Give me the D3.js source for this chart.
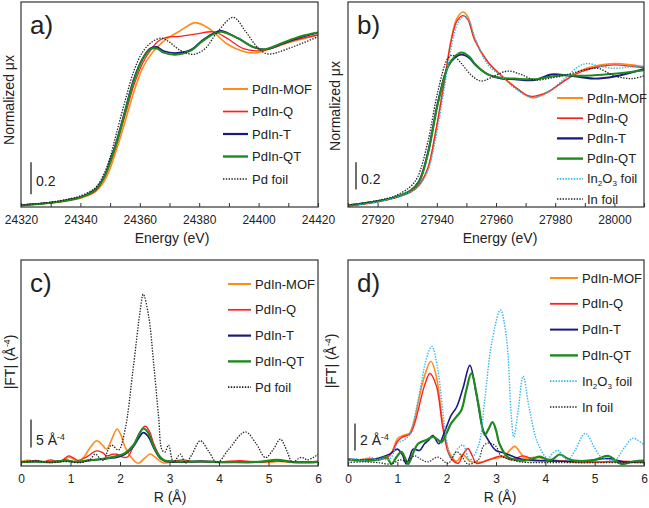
<!DOCTYPE html>
<html><head><meta charset="utf-8">
<script src="https://cdn.jsdelivr.net/npm/d3@7"></script>
<style>body{margin:0;background:#fff}svg{display:block}text{font-family:"Liberation Sans",Arial,sans-serif;fill:#222}</style>
</head><body><svg id="chart" width="649" height="508"></svg>
<script>
// ---------- Panel a: Pd K-edge XANES ----------
const aTicks = [24320,24330,24340,24350,24360,24370,24380,24390,24400,24410,24420];
const aTickLabels = [24320,24340,24360,24380,24400,24420];
const aMOF = [[24320,0.01],[24330,0.025],[24336,0.04],[24340,0.055],[24345,0.095],[24348,0.16],[24350,0.24],[24352,0.35],[24355,0.53],[24358,0.72],[24361,0.87],[24364,0.96],[24366.5,1.01],[24369,1.05],[24373.5,1.10],[24378.6,1.152],[24382,1.13],[24384.7,1.096],[24389.3,1.02],[24394.9,0.972],[24399.4,0.963],[24403.9,0.99],[24410.6,1.03],[24420,1.075]];
const aQ = [[24320,0.011],[24330,0.027],[24336,0.043],[24340,0.06],[24345,0.10],[24348,0.18],[24350,0.27],[24352,0.38],[24355,0.57],[24358,0.76],[24361,0.90],[24364,0.99],[24366.5,1.04],[24369,1.06],[24373.5,1.066],[24378.6,1.08],[24385,1.094],[24389.3,1.055],[24394.9,0.99],[24400.5,0.976],[24405,0.995],[24410.6,1.035],[24420,1.075]];
const aT = [[24320,0.011],[24330,0.027],[24336,0.045],[24340,0.062],[24345,0.11],[24348,0.19],[24350,0.29],[24352,0.40],[24355,0.60],[24358,0.80],[24361,0.93],[24363.5,0.99],[24365.7,1.00],[24368,0.975],[24371.9,0.962],[24377,0.98],[24381,1.04],[24385.3,1.09],[24387.5,1.10],[24393,1.055],[24398.2,1.0],[24402,0.985],[24408,1.02],[24414,1.06],[24420,1.09]];
const aQT = [[24320,0.01],[24330,0.026],[24336,0.044],[24340,0.06],[24345,0.105],[24348,0.185],[24350,0.28],[24352,0.39],[24355,0.59],[24358,0.79],[24361,0.925],[24363.5,0.985],[24365.7,0.99],[24368,0.965],[24371.9,0.952],[24377,0.975],[24381,1.035],[24385.3,1.085],[24387.5,1.095],[24393,1.055],[24398.2,1.0],[24402,0.985],[24408,1.025],[24414,1.065],[24420,1.09]];
const aPdFoil = [[24320,0.012],[24330,0.03],[24336,0.05],[24340,0.07],[24345,0.12],[24348,0.21],[24350,0.31],[24352,0.45],[24355,0.66],[24358,0.85],[24361,0.97],[24364,1.03],[24367.4,1.055],[24370,1.03],[24373.5,0.98],[24378,0.954],[24382,0.99],[24386,1.09],[24391.5,1.185],[24395.5,1.10],[24400,0.99],[24403.2,0.956],[24410,0.99],[24420,1.064]];

// ---------- Panel b: In K-edge XANES ----------
const bTicks = [27910,27920,27930,27940,27950,27960,27970,27980,27990,28000,28010];
const bTickLabels = [27920,27940,27960,27980,28000];
const bMOF = [[27910,0.0],[27920,0.03],[27926,0.06],[27931,0.10],[27934,0.15],[27937,0.27],[27939.5,0.52],[27942.7,0.93],[27944.9,1.22],[27946.8,1.37],[27948.9,1.416],[27950.5,1.38],[27952.8,1.22],[27957.3,1.05],[27961.8,0.954],[27966.3,0.87],[27970.8,0.80],[27972.5,0.79],[27977.6,0.83],[27983.2,0.917],[27988.8,0.99],[27995.6,1.03],[28000,1.04],[28005.7,1.03],[28010,1.015]];
const bQ = [[27910,0.0],[27920,0.032],[27926,0.062],[27931,0.10],[27934,0.155],[27937,0.28],[27939.5,0.53],[27942.7,0.93],[27944.9,1.21],[27946.8,1.35],[27948.9,1.39],[27950.5,1.36],[27952.8,1.21],[27957.3,1.05],[27961.8,0.95],[27966.3,0.87],[27970.8,0.805],[27972.5,0.80],[27977.6,0.835],[27983.2,0.915],[27988.8,0.98],[27995.6,1.02],[28000,1.03],[28005.7,1.02],[28010,1.01]];
const bT = [[27910,0.005],[27920,0.035],[27926,0.065],[27931,0.11],[27934,0.18],[27937,0.39],[27940.4,0.76],[27943.8,1.02],[27946,1.08],[27948.3,1.105],[27951,1.08],[27953,1.03],[27957.3,0.96],[27961.8,0.93],[27966.3,0.925],[27973,0.92],[27978.7,0.96],[27983.2,0.955],[27988.8,0.94],[27993.3,0.93],[28000,0.945],[28010,1.0]];
const bQT = [[27910,0.005],[27920,0.035],[27926,0.065],[27931,0.11],[27934,0.175],[27937,0.38],[27940.4,0.75],[27943.8,1.02],[27946,1.09],[27948.3,1.12],[27951,1.09],[27953,1.035],[27957.3,0.96],[27961.8,0.935],[27966.3,0.93],[27973,0.925],[27978.7,0.945],[27983.2,0.955],[27988.8,0.95],[27993.3,0.955],[28000,0.965],[28010,0.99]];
const bIn2O3 = [[27910,0.0],[27920,0.03],[27926,0.06],[27931,0.10],[27934,0.15],[27937,0.26],[27939.5,0.48],[27942.7,0.88],[27944.9,1.16],[27947,1.33],[27949.3,1.385],[27951,1.35],[27953,1.22],[27957.3,1.03],[27961.8,0.95],[27966.3,0.86],[27970.8,0.80],[27973,0.79],[27978,0.84],[27983.2,0.93],[27988,1.02],[27991,1.04],[27995,1.02],[28000,1.005],[28005,1.015],[28010,1.02]];
const bInFoil = [[27910,0.005],[27920,0.04],[27926,0.075],[27931,0.14],[27933.5,0.21],[27937,0.47],[27940.4,0.84],[27943.8,1.08],[27945.5,1.10],[27948.3,1.04],[27951.7,0.954],[27955,0.912],[27959.5,0.95],[27964,0.985],[27968.5,0.96],[27973,0.92],[27977.6,0.93],[27984.3,0.96],[27991,1.0],[27994.5,1.005],[28000,0.95],[28005.7,0.93],[28010,0.95]];

// ---------- Panel c: Pd K-edge EXAFS FT ----------
const cTicks = [0,1,2,3,4,5,6];
const cTickLabels = [0,1,2,3,4,5,6];
const cMOF = [[0,0.3],[0.15,0.5],[0.3,0.3],[0.45,0.2],[0.6,0.4],[0.75,0.2],[0.85,0.4],[0.96,1.05],[1.05,0.8],[1.13,0.3],[1.25,0.9],[1.4,2.8],[1.53,4.0],[1.65,3.2],[1.73,2.5],[1.83,4.2],[1.94,6.1],[2.02,5.0],[2.1,2.95],[2.25,0.8],[2.37,0.0],[2.5,0.9],[2.61,1.64],[2.72,1.0],[2.88,0.05],[3.0,0.2],[3.3,0.3],[3.6,0.3],[4.0,0.15],[4.5,0.25],[5.0,0.15],[5.2,0.3],[5.5,0.15],[6.0,0.2]];
const cQ = [[0,0.3],[0.15,0.2],[0.3,0.5],[0.45,0.2],[0.6,0.6],[0.75,0.2],[0.85,0.6],[0.96,1.3],[1.05,1.0],[1.15,0.5],[1.3,1.0],[1.53,2.2],[1.65,1.9],[1.73,1.3],[1.85,1.6],[1.94,1.6],[2.05,1.1],[2.15,1.1],[2.27,3.0],[2.4,5.5],[2.51,6.6],[2.6,5.6],[2.68,3.5],[2.8,1.3],[2.88,0.5],[3.0,0.3],[3.28,0.6],[3.45,0.3],[3.62,0.4],[4.0,0.25],[4.43,0.45],[4.8,0.2],[5.17,0.45],[5.5,0.2],[6.0,0.3]];
const cT = [[0,0.2],[0.3,0.3],[0.6,0.2],[0.92,0.5],[1.1,0.2],[1.4,0.5],[1.6,0.7],[1.8,0.9],[1.95,1.1],[2.1,1.6],[2.27,3.0],[2.4,4.8],[2.47,5.45],[2.56,4.9],[2.68,2.8],[2.8,1.0],[2.9,0.4],[3.1,0.2],[3.62,0.3],[4.2,0.2],[4.8,0.2],[5.17,0.5],[5.5,0.2],[6.0,0.2]];
const cQT = [[0,0.2],[0.3,0.3],[0.6,0.2],[0.92,0.45],[1.1,0.25],[1.4,0.55],[1.6,0.7],[1.8,1.0],[1.95,1.3],[2.1,1.8],[2.27,3.2],[2.4,5.4],[2.47,6.2],[2.56,5.6],[2.68,3.0],[2.8,1.2],[2.9,0.5],[3.1,0.3],[3.62,0.3],[4.2,0.2],[4.8,0.25],[5.17,0.6],[5.5,0.2],[6.0,0.25]];
const cPdFoil = [[0,0.2],[0.3,0.4],[0.6,0.1],[0.9,0.3],[1.2,0.1],[1.4,0.7],[1.5,1.64],[1.6,0.8],[1.67,0.5],[1.75,2.2],[1.83,3.25],[1.97,2.36],[2.1,5.9],[2.27,17.2],[2.41,27.4],[2.47,30.2],[2.58,26.2],[2.68,17.8],[2.78,8.3],[2.85,2.36],[2.91,2.0],[2.98,3.25],[3.08,0.2],[3.22,1.6],[3.32,0.0],[3.45,1.5],[3.62,4.0],[3.8,2.0],[3.96,0.1],[4.2,2.5],[4.53,5.6],[4.75,3.5],[4.94,1.0],[5.1,2.5],[5.24,4.3],[5.38,2.0],[5.48,0.2],[5.64,1.0],[5.72,0.9],[5.78,0.6],[5.9,1.0],[6.0,1.6]];

// ---------- Panel d: In K-edge EXAFS FT ----------
const dTicks = [0,1,2,3,4,5,6];
const dTickLabels = [0,1,2,3,4,5,6];
const dMOF = [[0,0.35],[0.2,0.3],[0.4,0.4],[0.55,0.3],[0.68,0.35],[0.8,0.5],[0.88,0.8],[1.01,1.9],[1.11,2.1],[1.2,2.2],[1.25,2.3],[1.35,3.3],[1.42,4.5],[1.55,6.5],[1.68,7.6],[1.79,6.5],[1.93,2.8],[2.06,0.8],[2.2,0.2],[2.33,0.7],[2.47,0.2],[2.7,0.15],[2.9,0.35],[3.1,0.5],[3.18,0.6],[3.3,1.1],[3.38,1.3],[3.5,0.8],[3.58,0.45],[3.78,0.5],[4.05,0.35],[4.4,0.2],[4.73,0.1],[5.3,0.15],[6.0,0.1]];
const dQ = [[0,0.35],[0.2,0.3],[0.4,0.35],[0.55,0.3],[0.68,0.35],[0.8,0.5],[0.88,0.8],[1.01,1.7],[1.11,2.0],[1.25,2.2],[1.35,3.0],[1.55,5.8],[1.66,6.7],[1.79,5.8],[1.93,2.5],[2.06,0.6],[2.23,0.05],[2.33,0.7],[2.43,1.15],[2.52,0.6],[2.6,0.05],[2.84,0.3],[3.0,0.5],[3.11,0.6],[3.3,0.3],[3.55,0.6],[3.78,0.3],[4.1,0.2],[4.5,0.2],[5.0,0.15],[5.5,0.2],[6.0,0.15]];
const dT = [[0,0.35],[0.3,0.3],[0.5,0.35],[0.68,0.5],[0.85,0.75],[1.0,1.1],[1.1,0.7],[1.18,0.0],[1.25,0.5],[1.32,1.1],[1.45,1.0],[1.55,1.5],[1.62,1.7],[1.72,2.1],[1.84,1.5],[1.96,2.4],[2.09,3.6],[2.2,4.2],[2.33,5.6],[2.47,7.3],[2.6,5.2],[2.74,2.5],[2.87,1.6],[3.0,1.0],[3.18,0.8],[3.38,0.5],[3.6,0.3],[3.78,0.25],[4.1,0.25],[4.39,0.2],[4.8,0.2],[5.27,0.4],[5.6,0.15],[6.0,0.2]];
const dQT = [[0,0.3],[0.3,0.25],[0.6,0.3],[0.78,0.5],[0.88,0.0],[0.98,0.5],[1.08,0.9],[1.15,0.5],[1.22,0.0],[1.32,0.8],[1.42,1.5],[1.6,1.8],[1.72,2.0],[1.82,1.8],[1.89,1.6],[2.0,2.3],[2.09,3.0],[2.2,3.5],[2.3,4.0],[2.4,5.5],[2.5,6.7],[2.64,4.5],[2.77,2.15],[2.85,2.6],[2.93,3.1],[3.0,2.5],[3.07,1.5],[3.24,0.5],[3.4,0.3],[3.58,0.25],[3.75,0.4],[3.89,0.55],[4.05,0.3],[4.15,0.35],[4.29,0.7],[4.45,0.4],[4.59,0.25],[5.0,0.3],[5.27,0.6],[5.54,0.0],[5.8,0.2],[6.0,0.25]];
const dIn2O3 = [[0,0.2],[0.15,0.4],[0.3,0.25],[0.45,0.5],[0.6,0.3],[0.68,0.4],[0.8,0.3],[0.88,0.5],[1.01,1.55],[1.15,1.8],[1.25,2.2],[1.42,4.7],[1.59,7.8],[1.70,8.7],[1.82,7.0],[1.96,2.76],[2.09,0.4],[2.23,1.16],[2.33,1.4],[2.47,0.3],[2.64,1.3],[2.77,4.7],[2.91,8.9],[3.09,11.4],[3.21,9.4],[3.31,3.5],[3.36,2.0],[3.45,4.0],[3.55,6.5],[3.68,4.0],[3.85,1.5],[4.05,0.4],[4.15,0.8],[4.26,1.0],[4.35,0.6],[4.46,0.3],[4.6,1.0],[4.81,2.27],[5.0,1.2],[5.14,0.5],[5.41,0.3],[5.6,1.2],[5.78,1.9],[6.0,1.4]];
const dInFoil = [[0,0.1],[0.3,0.15],[0.6,0.1],[0.88,0.0],[1.05,0.3],[1.2,0.2],[1.35,0.6],[1.5,0.3],[1.62,0.15],[1.82,0.5],[2.03,0.05],[2.2,0.9],[2.3,0.6],[2.43,0.0],[2.64,0.3],[2.74,1.3],[2.84,1.55],[3.0,1.3],[3.1,0.6],[3.24,0.4],[3.5,0.15],[4.0,0.1],[5.0,0.1],[6.0,0.1]];

const seriesNames = ["PdIn-MOF","PdIn-Q","PdIn-T","PdIn-QT"];
const COL = {mof:"#ff8c1a", q:"#ff1f1f", t:"#1a1a85", qt:"#1f8a1f", in2o3:"#2fb4f0", foil:"#222"};
const FONT = '"Liberation Sans", Arial, sans-serif';

const svg = d3.select("#chart");

function richText(sel, parts){
  parts.forEach(p=>{
    const ts = sel.append("tspan").text(p.t);
    if(p.sup){ ts.attr("dy",-5).attr("font-size","0.62em"); }
    else if(p.sub){ ts.attr("dy",3).attr("font-size","0.62em"); }
    else if(p.back){ ts.attr("dy",p.back); }
  });
}

function panel(cfg){
  const g = svg.append("g");
  const x = d3.scaleLinear().domain(cfg.xd).range([cfg.l, cfg.r]);
  const y = d3.scaleLinear().domain(cfg.yd).range([cfg.b, cfg.t]);
  const cid = "clip-" + cfg.name;
  svg.append("clipPath").attr("id", cid).append("rect")
    .attr("x", cfg.l).attr("y", cfg.t).attr("width", cfg.r - cfg.l).attr("height", cfg.b - cfg.t);
  const line = d3.line().x(d => x(d[0])).y(d => y(d[1])).curve(d3.curveCatmullRom.alpha(0.5));
  const plot = g.append("g").attr("clip-path", `url(#${cid})`);
  cfg.series.forEach(s => {
    plot.append("path").attr("d", line(s.data)).attr("fill","none")
      .attr("stroke", s.color).attr("stroke-width", s.w)
      .attr("stroke-dasharray", s.dash || null).attr("stroke-linejoin","round");
  });
  // axis
  const fmt = d3.format("d");
  const ax = d3.axisBottom(x).tickValues(cfg.ticks).tickSize(-4).tickPadding(8)
    .tickFormat(d => cfg.labels.includes(d) ? fmt(d) : "");
  const ag = g.append("g").attr("transform", `translate(0,${cfg.b})`).call(ax)
    .attr("font-family", FONT).attr("font-size", 12);
  ag.select(".domain").remove();
  ag.selectAll(".tick line").attr("stroke", "#333").attr("stroke-width", 1);
  ag.selectAll(".tick text").attr("fill", "#222");
  // frame
  g.append("rect").attr("x", cfg.l).attr("y", cfg.t).attr("width", cfg.r - cfg.l).attr("height", cfg.b - cfg.t)
    .attr("fill","none").attr("stroke","#333").attr("stroke-width",1.2);
  // panel letter
  g.append("text").attr("x", cfg.l + 9).attr("y", cfg.t + 32).text(cfg.letter)
    .attr("font-family","Lato, 'Open Sans', sans-serif").attr("font-size", 26).attr("fill","#111");
  // x title
  g.append("text").attr("x", cfg.xtX).attr("y", cfg.b + 36).attr("text-anchor","middle")
    .attr("font-size", 14).text(cfg.xTitle);
  // y title
  const yt = g.append("text").attr("transform", `translate(${cfg.ytX},${cfg.ytY}) rotate(-90)`)
    .attr("text-anchor","middle").attr("font-size", 14);
  richText(yt, cfg.yTitle);
  // scale bar
  g.append("line").attr("x1", cfg.sb.x).attr("x2", cfg.sb.x)
    .attr("y1", y(cfg.sb.v0)).attr("y2", y(cfg.sb.v0 + cfg.sb.len))
    .attr("stroke","#222").attr("stroke-width",1.3);
  const sbt = g.append("text").attr("x", cfg.sb.x + 5).attr("y", cfg.sb.ty).attr("font-size", 14);
  richText(sbt, cfg.sb.label);
  // legend
  cfg.series.forEach((s, i) => {
    const ly = cfg.leg.y0 + i * cfg.leg.dy;
    g.append("line").attr("x1", cfg.leg.x1).attr("x2", cfg.leg.x2).attr("y1", ly).attr("y2", ly)
      .attr("stroke", s.color).attr("stroke-width", Math.min(s.w + 0.4, 2.4)).attr("stroke-dasharray", s.dash || null);
    const t = g.append("text").attr("x", cfg.leg.x2 + 4).attr("y", ly).attr("dy","0.36em").attr("font-size", 13);
    richText(t, s.label);
  });
}

const solid = (name, data, color, w) => ({label:[{t:name}], data, color, w});
const DOT = "1.4 1.4";

panel({name:"a", letter:"a)", l:21, r:318, t:2, b:207, xd:[24320,24420], yd:[0,1.281],
  ticks:aTicks, labels:aTickLabels, xTitle:"Energy (eV)", xtX:172,
  yTitle:[{t:"Normalized μx"}], ytX:14, ytY:100,
  sb:{x:31, v0:0.08, len:0.2, ty:186, label:[{t:"0.2"}]},
  leg:{x1:223, x2:248, y0:89, dy:22.5},
  series:[solid("PdIn-MOF",aMOF,COL.mof,1.6), solid("PdIn-Q",aQ,COL.q,1.3), solid("PdIn-T",aT,COL.t,1.8), solid("PdIn-QT",aQT,COL.qt,2.0),
    {label:[{t:"Pd foil"}], data:aPdFoil, color:COL.foil, w:1.3, dash:DOT}]
});

panel({name:"b", letter:"b)", l:348, r:644, t:2, b:207, xd:[27910,28010], yd:[-0.0073,1.489],
  ticks:bTicks, labels:bTickLabels, xTitle:"Energy (eV)", xtX:500,
  yTitle:[{t:"Normalized μx"}], ytX:340, ytY:106,
  sb:{x:356, v0:0.12, len:0.2, ty:184, label:[{t:"0.2"}]},
  leg:{x1:557, x2:583, y0:98, dy:20.2},
  series:[solid("PdIn-MOF",bMOF,COL.mof,1.6), solid("PdIn-Q",bQ,COL.q,1.3), solid("PdIn-T",bT,COL.t,1.9), solid("PdIn-QT",bQT,COL.qt,2.0),
    {label:[{t:"In"},{t:"2",sub:true},{t:"O",back:-3},{t:"3",sub:true},{t:" foil",back:-3}], data:bIn2O3, color:COL.in2o3, w:1.4, dash:DOT},
    {label:[{t:"In foil"}], data:bInFoil, color:COL.foil, w:1.3, dash:DOT}]
});

panel({name:"c", letter:"c)", l:21, r:318, t:260, b:466, xd:[0,6], yd:[-0.5,36.3],
  ticks:cTicks, labels:cTickLabels, xTitle:"R (Å)", xtX:170,
  yTitle:[{t:"|FT| (Å"},{t:"-4",sup:true},{t:")",back:5}], ytX:15, ytY:362,
  sb:{x:31, v0:2.8, len:5, ty:445, label:[{t:"5 Å"},{t:"-4",sup:true}]},
  leg:{x1:228, x2:251, y0:284, dy:25.8},
  series:[solid("PdIn-MOF",cMOF,COL.mof,1.6), solid("PdIn-Q",cQ,COL.q,1.3), solid("PdIn-T",cT,COL.t,1.8), solid("PdIn-QT",cQT,COL.qt,2.2),
    {label:[{t:"Pd foil"}], data:cPdFoil, color:COL.foil, w:1.3, dash:DOT}]
});

panel({name:"d", letter:"d)", l:348, r:644, t:260, b:466, xd:[0,6], yd:[-0.15,15.1],
  ticks:dTicks, labels:dTickLabels, xTitle:"R (Å)", xtX:500,
  yTitle:[{t:"|FT| (Å"},{t:"-4",sup:true},{t:")",back:5}], ytX:336, ytY:361,
  sb:{x:355, v0:1.0, len:2, ty:445, label:[{t:"2 Å"},{t:"-4",sup:true}]},
  leg:{x1:550, x2:578, y0:278, dy:25.8},
  series:[solid("PdIn-MOF",dMOF,COL.mof,1.6), solid("PdIn-Q",dQ,COL.q,1.4), solid("PdIn-T",dT,COL.t,1.6), solid("PdIn-QT",dQT,COL.qt,2.2),
    {label:[{t:"In"},{t:"2",sub:true},{t:"O",back:-3},{t:"3",sub:true},{t:" foil",back:-3}], data:dIn2O3, color:COL.in2o3, w:1.4, dash:DOT},
    {label:[{t:"In foil"}], data:dInFoil, color:COL.foil, w:1.2, dash:DOT}]
});
</script></body></html>
